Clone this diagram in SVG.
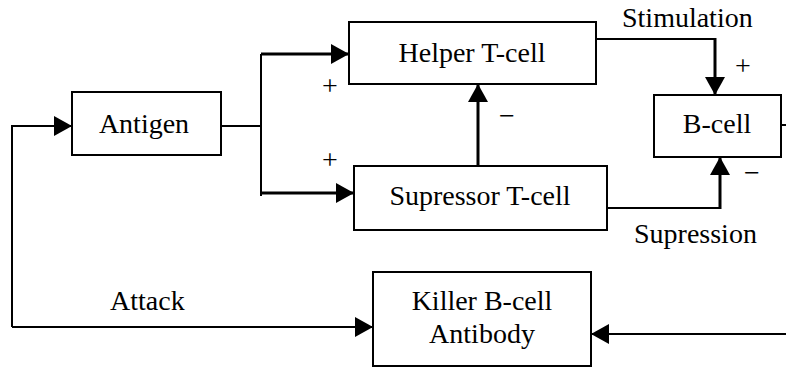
<svg xmlns="http://www.w3.org/2000/svg" width="786" height="372" viewBox="0 0 786 372">
<style>
.box{fill:#fff;stroke:#000;stroke-width:2}
.t{font-family:'Liberation Serif','Times New Roman',serif;font-size:28px;fill:#000}
.c{text-anchor:middle}
.ln{fill:none;stroke:#000;stroke-width:2}
.th{fill:none;stroke:#000;stroke-width:3}
</style>
<defs>
<marker id="ah" markerUnits="userSpaceOnUse" markerWidth="18" markerHeight="20" refX="18" refY="10" orient="auto">
<path d="M0,0 L18,10 L0,20 z" fill="#000"/>
</marker>
</defs>
<rect width="786" height="372" fill="#fff"/>
<g id="connectors">
<path class="ln" d="M221,126 H261"/>
<path class="ln" d="M261,54 V196"/>
<path class="th" d="M261,54 H349" marker-end="url(#ah)"/>
<path class="th" d="M261,193 H354" marker-end="url(#ah)"/>
<path class="th" d="M478,166 V84" marker-end="url(#ah)"/>
<path class="ln" d="M596,39 H715"/>
<path class="th" d="M715,38 V95" marker-end="url(#ah)"/>
<path class="ln" d="M607,208 H720"/>
<path class="th" d="M720,209 V157" marker-end="url(#ah)"/>
<path class="ln" d="M12,327 V126 H72" marker-end="url(#ah)"/>
<path class="ln" d="M12,327 H373" marker-end="url(#ah)"/>
<path class="ln" d="M786,334 H591" marker-end="url(#ah)"/>
<path class="ln" d="M781,125 H786"/>
</g>
<g id="antigen">
<rect class="box" x="72" y="92" width="149" height="63"/>
<text class="t c" x="144" y="133">Antigen</text>
</g>
<g id="helper">
<rect class="box" x="349" y="22" width="247" height="62"/>
<text class="t c" x="472" y="62">Helper T-cell</text>
</g>
<g id="supressor">
<rect class="box" x="354" y="166" width="253" height="64"/>
<text class="t c" x="480" y="205">Supressor T-cell</text>
</g>
<g id="bcell">
<rect class="box" x="654" y="95" width="127" height="62"/>
<text class="t c" x="717" y="133">B-cell</text>
</g>
<g id="killer">
<rect class="box" x="373" y="272" width="218" height="94"/>
<text class="t c" x="482" y="310">Killer B-cell</text>
<text class="t c" x="482" y="343">Antibody</text>
</g>
<g id="labels">
<text class="t" x="622" y="27">Stimulation</text>
<text class="t" x="634" y="243">Supression</text>
<text class="t" x="110" y="310">Attack</text>
<text class="t c" x="330" y="95">+</text>
<text class="t c" x="330" y="169">+</text>
<text class="t c" x="743" y="75">+</text>
<text class="t c" x="507" y="125">−</text>
<text class="t c" x="752" y="182">−</text>
</g>
</svg>
